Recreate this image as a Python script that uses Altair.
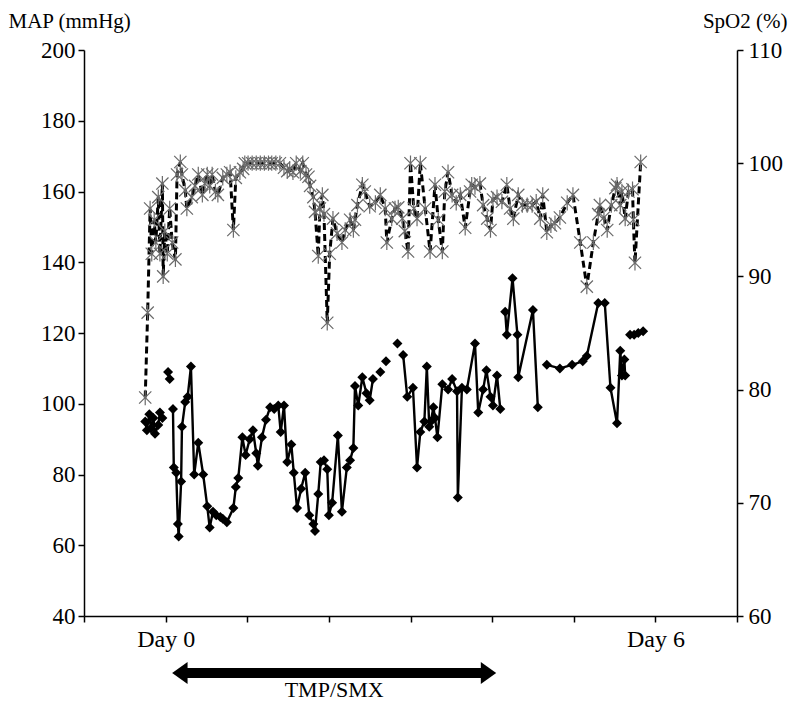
import altair as alt
import pandas as pd

# ---- MAP (mmHg): time (days), value, segment id (line breaks between segments)
map_day = [-0.25, -0.23, -0.20, -0.18, -0.15, -0.13, -0.09, -0.07, -0.04,
           0.03, 0.05,
           0.09, 0.10, 0.13, 0.15, 0.16, 0.19, 0.20, 0.24, 0.27, 0.31, 0.35, 0.40,
           0.46, 0.51, 0.54, 0.58, 0.62, 0.67, 0.70, 0.75, 0.83, 0.86, 0.89, 0.94,
           0.98, 1.03, 1.07, 1.11, 1.13, 1.18, 1.23, 1.28, 1.33, 1.38, 1.41, 1.45,
           1.49, 1.54, 1.57, 1.61, 1.66, 1.71, 1.76, 1.81, 1.83, 1.87, 1.90, 1.94,
           1.98, 2.00, 2.04, 2.11, 2.16, 2.22, 2.26, 2.30, 2.32, 2.36, 2.41, 2.46,
           2.50, 2.54,
           2.63, 2.70, 2.84,
           2.91, 2.96, 3.03, 3.08, 3.12, 3.17, 3.20, 3.23, 3.25, 3.28, 3.30, 3.33,
           3.39, 3.46, 3.51, 3.57, 3.58, 3.63, 3.69, 3.79, 3.83, 3.89, 3.93, 3.98,
           4.01, 4.06, 4.10,
           4.16, 4.18, 4.25, 4.31, 4.32, 4.50, 4.56,
           4.67, 4.83, 4.98, 5.11, 5.16, 5.30, 5.38, 5.45, 5.53, 5.57, 5.59, 5.62, 5.63,
           5.69, 5.74, 5.79, 5.85]
map_val = [95, 92.5, 97, 93, 96, 91.5, 94, 97.5, 96,
           109, 107,
           98.5, 82, 80.5, 66, 62.5, 78, 93.5, 100.5, 102, 110.5, 80, 89,
           80, 71, 65, 69.5, 68.5, 68, 67.5, 66.5, 70.5, 76.5, 79, 90.5,
           85.5, 90, 92.5, 86, 82.5, 90.5, 95.5, 99, 98.5, 99.5, 92, 99.5,
           83.5, 88.5, 80.5, 70.5, 76, 80.5, 68.5, 66, 64, 74.5, 83.5, 84,
           81.5, 68.5, 72, 91, 69.5, 82, 84, 87.5, 105, 99.5, 107.5, 103,
           101, 107,
           109, 112, 117,
           113.8, 102, 104.5, 82, 92, 95, 110.5, 93.5, 95, 99, 96, 90.5,
           105.5, 104, 107, 103.5, 73.5, 104.5, 104, 117, 97.5, 104, 109.5, 102,
           99.5, 108, 98.5,
           126, 119.5, 135.5, 119.5, 107.5, 126.5, 99,
           111, 110, 111, 112, 113.5, 128.5, 128.5, 104.5, 94.5, 115, 108, 112.5, 108,
           119.5, 119.5, 120, 120.5]
map_seg = ([1] * 9 + [2] * 2 + [3] * 62 + [4, 5, 6] + [7] * 27 + [8] * 7
           + [9] * 13 + [10] * 4)

# ---- SpO2 (%): time (days), value
spo2_day = [-0.25, -0.22, -0.19, -0.17, -0.14, -0.12, -0.09, -0.07, -0.04, -0.03,
            -0.01, 0.02, 0.05, 0.08, 0.12, 0.14, 0.18, 0.20, 0.24, 0.26, 0.32, 0.36,
            0.40, 0.45, 0.48, 0.51, 0.54, 0.57, 0.61, 0.64, 0.70, 0.75, 0.79, 0.83,
            0.86, 0.91, 0.95, 0.97, 1.01, 1.06, 1.11, 1.16, 1.21, 1.26, 1.30, 1.35,
            1.40, 1.45, 1.49, 1.52, 1.56, 1.60, 1.65, 1.68, 1.72, 1.75, 1.77, 1.81,
            1.83, 1.87, 1.89, 1.92, 1.94, 1.98, 2.01, 2.05, 2.10, 2.16, 2.20, 2.26,
            2.30, 2.32, 2.35, 2.41, 2.44, 2.50, 2.57, 2.63, 2.69, 2.71, 2.77, 2.81,
            2.85, 2.90, 2.93, 2.97, 3.00, 3.04, 3.08, 3.12, 3.18, 3.24, 3.30, 3.34,
            3.39, 3.42, 3.46, 3.51, 3.56, 3.61, 3.67, 3.73, 3.75, 3.79, 3.85, 3.89,
            3.94, 3.98, 4.01, 4.06, 4.12, 4.18, 4.22, 4.26, 4.32, 4.37, 4.43, 4.49,
            4.54, 4.59, 4.62, 4.67, 4.72, 4.77, 4.83, 4.92, 4.99, 5.08, 5.16, 5.24,
            5.30, 5.32, 5.37, 5.41, 5.46, 5.51, 5.53, 5.57, 5.59, 5.63, 5.67, 5.72,
            5.73, 5.75, 5.82]
spo2_val = [79.3, 86.8, 96, 92, 95, 93, 97, 92, 98.2, 90,
            94, 92, 96, 93, 91.5, 99, 100.1, 99, 97.6, 96, 97, 98,
            99, 97.2, 98.2, 99, 98, 99, 97.5, 97.2, 98.7, 99, 99.2, 94.1,
            98.7, 99.2, 99.5, 100, 100, 100, 100, 100, 100, 100, 100, 100,
            100, 99.6, 99.3, 99.5, 99.2, 100, 99.3, 100, 99, 98.8, 98, 97,
            95.7, 91.8, 96, 97.2, 95.5, 85.9, 92, 95.1, 93.8, 93, 94.1, 95,
            94.1, 95, 96.3, 98.1, 97.5, 96.2, 96.5, 97.2, 96, 93, 95.1, 96,
            96.1, 95.1, 94, 92.2, 100, 96, 95.1, 100, 96, 92.2, 98.1, 95,
            92.2, 97.5, 99.2, 97.2, 96.5, 97.2, 94.3, 97.5, 98.1, 97.9, 98.2, 96.3,
            95.1, 94.1, 96.8, 97, 96.6, 98.1, 96, 95.1, 97.2, 96.3, 96.3, 96.3,
            96.6, 95.1, 97.2, 93.9, 94.5, 94.7, 95.2, 96.5, 97.2, 93, 89.1, 93,
            95.5, 96.3, 95.2, 94.1, 96.3, 97.8, 98.1, 96.3, 97.5, 95.1, 97.5, 97.7,
            95, 91.2, 100.1]

# ---- axes / annotation
x_ticks = list(range(-1, 8))
day_labels = {0: "Day 0", 6: "Day 6"}
map_ticks = list(range(40, 201, 20))
spo2_ticks = list(range(60, 111, 10))
treat_start = 0.08
treat_end = 4.05
treat_label = "TMP/SMX"

FONT = "Liberation Serif"

df_map = pd.DataFrame({"day": map_day, "MAP": map_val, "seg": map_seg})
df_spo2 = pd.DataFrame({"day": spo2_day, "SpO2": spo2_val})
df_arrow = pd.DataFrame({"start": [treat_start], "end": [treat_end],
                         "mid": [(treat_start + treat_end) / 2],
                         "label": [treat_label]})

label_expr = " : ".join(
    f"datum.value == {k} ? '{v}'" for k, v in day_labels.items()) + " : ''"

x_scale = alt.Scale(domain=[-1, 7], nice=False, zero=False)
x_axis = alt.Axis(values=x_ticks, labelExpr=label_expr, title=None, labelPadding=5,
                  labelFontSize=24)


def xq(field):
    return alt.X(f"{field}:Q", scale=x_scale, axis=x_axis)


y_map = alt.Y("MAP:Q", scale=alt.Scale(domain=[40, 200], nice=False, zero=False),
              axis=alt.Axis(values=map_ticks, title="MAP (mmHg)", titleAngle=0,
                            titleX=-76, titleY=-29, titleAlign="left",
                            titleBaseline="middle", labelPadding=3))
y_spo2 = alt.Y("SpO2:Q", scale=alt.Scale(domain=[60, 110], nice=False, zero=False),
               axis=alt.Axis(orient="right", values=spo2_ticks, title="SpO2 (%)",
                             titleAngle=0, titleX=50, titleY=-29, titleAlign="right",
                             titleBaseline="middle", labelPadding=5))

map_line = alt.Chart(df_map).mark_line(color="black", strokeWidth=2.4).encode(
    x=xq("day"), y=y_map, detail="seg:N")
map_pts = alt.Chart(df_map).mark_point(shape="diamond", filled=True, color="black",
                                       size=100, opacity=1).encode(x=xq("day"), y=y_map)

shaft = alt.Chart(df_arrow).mark_rule(color="black", strokeWidth=10, xOffset=8,
                                      x2Offset=-8).encode(
    x=xq("start"), x2="end:Q", y=alt.value(623))
head_l = alt.Chart(df_arrow).mark_point(shape="M0,0L1.4,-1L1.4,1Z", filled=True,
                                        color="black", size=484, opacity=1).encode(
    x=xq("start"), y=alt.value(623))
head_r = alt.Chart(df_arrow).mark_point(shape="M0,0L-1.4,-1L-1.4,1Z", filled=True,
                                        color="black", size=484, opacity=1).encode(
    x=xq("end"), y=alt.value(623))
arrow_text = alt.Chart(df_arrow).mark_text(font=FONT, fontSize=22, color="black",
                                           baseline="middle").encode(
    x=xq("mid"), y=alt.value(640), text="label:N")

spo2_line = alt.Chart(df_spo2).mark_line(color="black", strokeWidth=3,
                                         strokeDash=[7, 4]).encode(x=xq("day"), y=y_spo2)
spo2_pts = alt.Chart(df_spo2).mark_point(
    shape="M-1,-1L1,1M-1,1L1,-1M0,-1.25L0,1.25", filled=False, color="#6a6a6a",
    strokeWidth=1.2, size=150, opacity=1).encode(x=xq("day"), y=y_spo2)

left = alt.layer(map_line, map_pts, shaft, head_l, head_r, arrow_text)
right = alt.layer(spo2_line, spo2_pts)

chart = alt.layer(left, right).resolve_scale(y="independent").properties(
    width=653, height=566, autosize=alt.AutoSizeParams(type="none"),
    padding={"left": 76, "top": 42, "right": 55, "bottom": 85}
).configure_view(stroke=None).configure_axis(
    grid=False, domainColor="black", domainWidth=1.5, tickColor="black",
    tickWidth=1.5, tickSize=6, labelFont=FONT, labelFontSize=23, labelColor="black",
    titleFont=FONT, titleFontSize=21, titleColor="black", titleFontWeight="normal"
)

chart.save("out.html", embed_options={"renderer": "svg", "actions": False})
